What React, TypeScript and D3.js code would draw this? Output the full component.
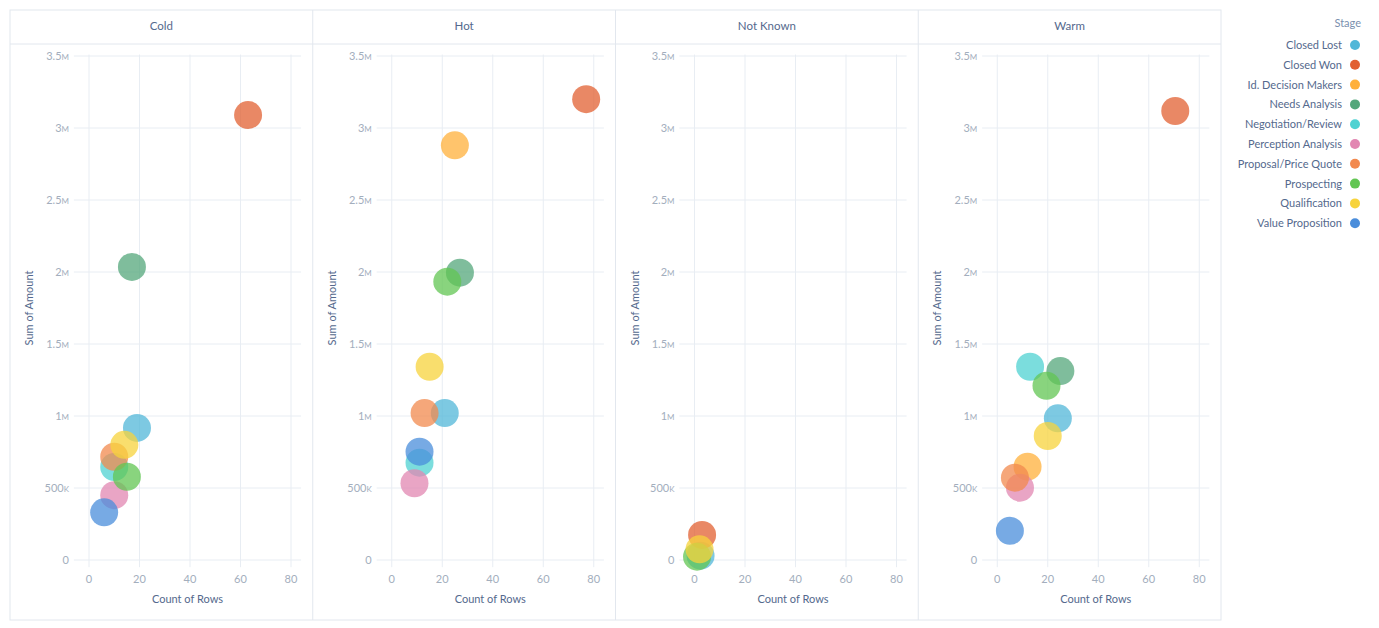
import React from "react";
import * as d3 from "d3";

const stages = [
  "Closed Lost",
  "Closed Won",
  "Id. Decision Makers",
  "Needs Analysis",
  "Negotiation/Review",
  "Perception Analysis",
  "Proposal/Price Quote",
  "Prospecting",
  "Qualification",
  "Value Proposition",
];
const stageColors = [
  "#52B7D8",
  "#E16032",
  "#FFB03B",
  "#54A77B",
  "#4FD2D2",
  "#E287B2",
  "#F2894E",
  "#62C653",
  "#F7D33C",
  "#4A8DDB",
];
const ratings = ["Cold", "Hot", "Not Known", "Warm"];

// [stage, count of rows, sum of amount]
const coldData: [string, number, number][] = [
  ["Closed Lost", 19, 917000],
  ["Closed Won", 63, 3090000],
  ["Needs Analysis", 17, 2035000],
  ["Negotiation/Review", 10, 646000],
  ["Perception Analysis", 10, 450000],
  ["Proposal/Price Quote", 10, 717000],
  ["Prospecting", 15, 578000],
  ["Qualification", 14, 800000],
  ["Value Proposition", 6, 331000],
];
const hotData: [string, number, number][] = [
  ["Closed Lost", 21, 1020000],
  ["Closed Won", 77, 3200000],
  ["Id. Decision Makers", 25, 2880000],
  ["Needs Analysis", 27, 1995000],
  ["Negotiation/Review", 11, 676000],
  ["Perception Analysis", 9, 533000],
  ["Proposal/Price Quote", 13, 1020000],
  ["Prospecting", 22, 1933000],
  ["Qualification", 15, 1342000],
  ["Value Proposition", 11, 752000],
];
const notKnownData: [string, number, number][] = [
  ["Closed Lost", 2.4, 30000],
  ["Closed Won", 3, 174000],
  ["Prospecting", 1, 23000],
  ["Qualification", 2, 74000],
];
const warmData: [string, number, number][] = [
  ["Closed Lost", 24, 984000],
  ["Closed Won", 70.5, 3118000],
  ["Id. Decision Makers", 12, 648000],
  ["Needs Analysis", 25, 1312000],
  ["Negotiation/Review", 13, 1342000],
  ["Perception Analysis", 9, 502000],
  ["Proposal/Price Quote", 7, 572000],
  ["Prospecting", 19.5, 1210000],
  ["Qualification", 20, 861000],
  ["Value Proposition", 5, 203000],
];
const panelData = [coldData, hotData, notKnownData, warmData];

const xTicks = [0, 20, 40, 60, 80];
const yTicks = [0, 500000, 1000000, 1500000, 2000000, 2500000, 3000000, 3500000];

const FONT = "Lato, 'Open Sans', sans-serif";
const color = d3.scaleOrdinal<string, string>().domain(stages).range(stageColors);

function yLabel(v: number) {
  if (v === 0) return { n: "0", s: "" };
  if (v >= 1000000) return { n: d3.format("~g")(v / 1000000), s: "M" };
  return { n: d3.format("~g")(v / 1000), s: "K" };
}

export default function App() {
  const W = 1379;
  const H = 628;
  const frameL = 10;
  const frameT = 10;
  const frameB = 620;
  const step = 302.75;
  const headerB = 44;
  const frameR = frameL + step * 4;

  const y = d3.scaleLinear().domain([0, 3500000]).range([560, 56]);

  return (
    <svg width={W} height={H} style={{ position: "absolute", left: 0, top: 0, fontFamily: FONT }}>
      <rect x={0} y={0} width={W} height={H} fill="#fff" />
      {/* frame */}
      <rect x={frameL} y={frameT} width={frameR - frameL} height={frameB - frameT} fill="none" stroke="#E2E7EE" />
      <line x1={frameL} x2={frameR} y1={headerB} y2={headerB} stroke="#E2E7EE" />
      {ratings.map((r, i) => {
        const px0 = frameL + i * step;
        const x = d3.scaleLinear().domain([0, 80]).range([px0 + 79, px0 + 281]);
        const data = panelData[i];
        return (
          <g key={r}>
            {i > 0 && <line x1={px0} x2={px0} y1={frameT} y2={frameB} stroke="#E2E7EE" />}
            <text x={px0 + step / 2} y={30} textAnchor="middle" fontSize={11.5} fill="#54698D">
              {r}
            </text>
            {/* grid */}
            {yTicks.map((t) => (
              <line key={"h" + t} x1={x(-6)} x2={x(84)} y1={y(t)} y2={y(t)} stroke="#E8EDF3" />
            ))}
            {xTicks.map((t) => (
              <line key={"v" + t} x1={x(t)} x2={x(t)} y1={y(3510000)} y2={y(-50000)} stroke="#E8EDF3" />
            ))}
            {/* y tick labels */}
            {yTicks.map((t) => {
              const l = yLabel(t);
              return (
                <text key={"yl" + t} x={px0 + 59} y={y(t) + 4} textAnchor="end" fontSize={11} fill="#A3AEBD">
                  {l.n}
                  {l.s && <tspan fontSize={8}>{l.s}</tspan>}
                </text>
              );
            })}
            {/* x tick labels */}
            {xTicks.map((t) => (
              <text key={"xl" + t} x={x(t)} y={583} textAnchor="middle" fontSize={11} fill="#A3AEBD">
                {t}
              </text>
            ))}
            <text x={(x(-6) + x(84)) / 2} y={603} textAnchor="middle" fontSize={11} fill="#54698D">
              Count of Rows
            </text>
            <text
              transform={`translate(${px0 + 23},${(y(0) + y(3500000)) / 2}) rotate(-90)`}
              textAnchor="middle"
              fontSize={11}
              fill="#54698D"
            >
              Sum of Amount
            </text>
            {/* bubbles */}
            {data.map((d) => (
              <circle
                key={d[0]}
                cx={x(d[1])}
                cy={y(d[2])}
                r={14}
                fill={color(d[0])}
                fillOpacity={0.75}
              />
            ))}
          </g>
        );
      })}
      {/* legend */}
      <text x={1361} y={27} textAnchor="end" fontSize={11} fill="#7A8FAE">
        Stage
      </text>
      {stages.map((s, i) => (
        <g key={s}>
          <text x={1342} y={49 + i * 19.8} textAnchor="end" fontSize={11} fill="#54698D">
            {s}
          </text>
          <circle cx={1355} cy={45 + i * 19.8} r={5} fill={color(s)} />
        </g>
      ))}
    </svg>
  );
}
